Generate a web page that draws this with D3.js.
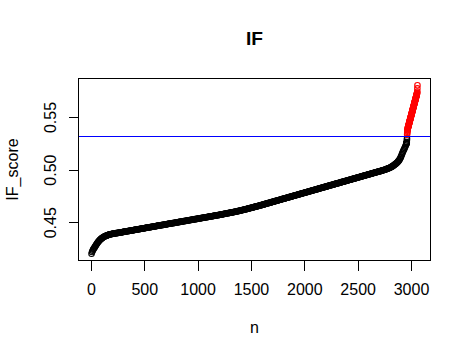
<!DOCTYPE html>
<html>
<head>
<meta charset="utf-8">
<script src="https://cdn.jsdelivr.net/npm/d3@7/dist/d3.min.js"></script>
<style>
html,body{margin:0;padding:0;background:#fff;}
svg{display:block;}
text{font-family:"Liberation Sans",Arial,sans-serif;fill:#000;}
</style>
</head>
<body>
<script>
const scores = [
0.4205,0.4222,0.4234,0.4244,0.4252,0.4260,0.4268,0.4276,0.4284,0.4292,0.4300,0.4307,0.4314,0.4321,0.4327,0.4333,0.4338,0.4343,0.4347,0.4351,
0.4355,0.4359,0.4362,0.4365,0.4368,0.4371,0.4373,0.4375,0.4377,0.4379,0.4381,0.4383,0.4385,0.4387,0.4389,0.4390,0.4391,0.4392,0.4393,0.4394,
0.4395,0.4396,0.4397,0.4398,0.4399,0.4400,0.4401,0.4401,0.4402,0.4403,0.4404,0.4405,0.4406,0.4407,0.4407,0.4408,0.4409,0.4410,0.4411,0.4412,
0.4413,0.4414,0.4415,0.4416,0.4417,0.4418,0.4418,0.4419,0.4420,0.4421,0.4422,0.4423,0.4424,0.4425,0.4426,0.4426,0.4427,0.4428,0.4429,0.4430,
0.4431,0.4432,0.4433,0.4434,0.4435,0.4436,0.4436,0.4437,0.4438,0.4439,0.4440,0.4441,0.4442,0.4443,0.4444,0.4444,0.4445,0.4446,0.4447,0.4448,
0.4449,0.4450,0.4451,0.4452,0.4453,0.4454,0.4454,0.4455,0.4456,0.4457,0.4458,0.4459,0.4460,0.4461,0.4462,0.4462,0.4463,0.4464,0.4465,0.4466,
0.4467,0.4468,0.4469,0.4470,0.4471,0.4472,0.4472,0.4473,0.4474,0.4475,0.4476,0.4477,0.4478,0.4479,0.4480,0.4480,0.4481,0.4482,0.4483,0.4484,
0.4485,0.4486,0.4487,0.4488,0.4489,0.4490,0.4490,0.4491,0.4492,0.4493,0.4494,0.4495,0.4496,0.4497,0.4498,0.4498,0.4499,0.4500,0.4501,0.4502,
0.4503,0.4504,0.4505,0.4506,0.4507,0.4508,0.4508,0.4509,0.4510,0.4511,0.4512,0.4513,0.4514,0.4515,0.4516,0.4516,0.4517,0.4518,0.4519,0.4520,
0.4521,0.4522,0.4523,0.4524,0.4525,0.4526,0.4526,0.4527,0.4528,0.4529,0.4530,0.4531,0.4532,0.4533,0.4534,0.4534,0.4535,0.4536,0.4537,0.4538,
0.4539,0.4540,0.4541,0.4542,0.4543,0.4544,0.4544,0.4545,0.4546,0.4547,0.4548,0.4549,0.4550,0.4551,0.4552,0.4552,0.4553,0.4554,0.4555,0.4556,
0.4557,0.4558,0.4559,0.4560,0.4561,0.4562,0.4562,0.4563,0.4564,0.4565,0.4566,0.4567,0.4568,0.4569,0.4570,0.4570,0.4571,0.4572,0.4573,0.4574,
0.4575,0.4576,0.4577,0.4578,0.4579,0.4580,0.4581,0.4582,0.4583,0.4584,0.4585,0.4586,0.4587,0.4588,0.4589,0.4590,0.4591,0.4592,0.4593,0.4594,
0.4595,0.4596,0.4597,0.4598,0.4599,0.4600,0.4601,0.4602,0.4603,0.4604,0.4605,0.4606,0.4607,0.4609,0.4610,0.4611,0.4612,0.4613,0.4614,0.4616,
0.4617,0.4618,0.4619,0.4621,0.4622,0.4623,0.4624,0.4626,0.4627,0.4628,0.4629,0.4631,0.4632,0.4633,0.4635,0.4636,0.4637,0.4639,0.4640,0.4641,
0.4642,0.4644,0.4645,0.4646,0.4648,0.4649,0.4651,0.4652,0.4653,0.4655,0.4656,0.4657,0.4659,0.4660,0.4662,0.4663,0.4664,0.4666,0.4667,0.4669,
0.4670,0.4671,0.4673,0.4674,0.4676,0.4677,0.4679,0.4680,0.4682,0.4683,0.4685,0.4686,0.4687,0.4689,0.4690,0.4692,0.4693,0.4695,0.4696,0.4698,
0.4699,0.4700,0.4702,0.4703,0.4705,0.4706,0.4708,0.4709,0.4711,0.4712,0.4714,0.4715,0.4716,0.4718,0.4719,0.4721,0.4722,0.4724,0.4725,0.4727,
0.4728,0.4729,0.4731,0.4732,0.4734,0.4735,0.4737,0.4738,0.4740,0.4741,0.4743,0.4744,0.4745,0.4747,0.4748,0.4750,0.4751,0.4753,0.4754,0.4756,
0.4757,0.4758,0.4760,0.4761,0.4763,0.4764,0.4766,0.4767,0.4769,0.4770,0.4772,0.4773,0.4774,0.4776,0.4777,0.4779,0.4780,0.4782,0.4783,0.4785,
0.4786,0.4787,0.4789,0.4790,0.4792,0.4793,0.4795,0.4796,0.4798,0.4799,0.4801,0.4802,0.4803,0.4805,0.4806,0.4808,0.4809,0.4811,0.4812,0.4814,
0.4815,0.4816,0.4818,0.4819,0.4821,0.4822,0.4824,0.4825,0.4827,0.4828,0.4830,0.4831,0.4832,0.4834,0.4835,0.4837,0.4838,0.4840,0.4841,0.4843,
0.4844,0.4845,0.4847,0.4848,0.4850,0.4851,0.4853,0.4854,0.4856,0.4857,0.4859,0.4860,0.4861,0.4863,0.4864,0.4866,0.4867,0.4869,0.4870,0.4872,
0.4873,0.4874,0.4876,0.4877,0.4879,0.4880,0.4882,0.4883,0.4885,0.4886,0.4888,0.4889,0.4890,0.4892,0.4893,0.4895,0.4896,0.4898,0.4899,0.4901,
0.4902,0.4903,0.4905,0.4906,0.4908,0.4909,0.4911,0.4912,0.4914,0.4915,0.4917,0.4918,0.4919,0.4921,0.4922,0.4924,0.4925,0.4927,0.4928,0.4930,
0.4931,0.4932,0.4934,0.4935,0.4937,0.4938,0.4940,0.4941,0.4943,0.4944,0.4946,0.4947,0.4948,0.4950,0.4951,0.4953,0.4954,0.4956,0.4957,0.4959,
0.4960,0.4961,0.4963,0.4964,0.4966,0.4967,0.4969,0.4970,0.4972,0.4973,0.4975,0.4976,0.4977,0.4979,0.4980,0.4982,0.4983,0.4985,0.4986,0.4988,
0.4989,0.4990,0.4992,0.4993,0.4995,0.4996,0.4998,0.4999,0.5001,0.5003,0.5004,0.5006,0.5008,0.5010,0.5012,0.5014,0.5016,0.5018,0.5020,0.5022,
0.5024,0.5027,0.5030,0.5033,0.5036,0.5040,0.5044,0.5047,0.5051,0.5055,0.5059,0.5063,0.5068,0.5073,0.5078,0.5084,0.5090,0.5097,0.5105,0.5115,
0.5126,0.5139,0.5152,0.5165,0.5177,0.5188,0.5199,0.5210,0.5222,0.5234,0.5247
];
const tailScores = [
0.5250,0.5254,0.5258,0.5263,0.5268,0.5284,0.5300,0.5338,0.5352,0.5364,
0.5374,0.5382,0.5389,0.5395,0.5399,0.5403,0.5407,0.5411,0.5415,0.5418,
0.5422,0.5426,0.5430,0.5434,0.5437,0.5441,0.5445,0.5449,0.5453,0.5457,
0.5461,0.5464,0.5468,0.5472,0.5476,0.5480,0.5484,0.5487,0.5491,0.5495,
0.5499,0.5503,0.5507,0.5510,0.5514,0.5518,0.5522,0.5526,0.5530,0.5533,
0.5537,0.5541,0.5545,0.5549,0.5553,0.5556,0.5560,0.5564,0.5568,0.5572,
0.5576,0.5580,0.5583,0.5587,0.5591,0.5595,0.5599,0.5603,0.5606,0.5610,
0.5614,0.5618,0.5622,0.5626,0.5629,0.5633,0.5637,0.5641,0.5645,0.5649,
0.5652,0.5656,0.5660,0.5664,0.5668,0.5672,0.5675,0.5679,0.5683,0.5687,
0.5691,0.5695,0.5698,0.5702,0.5706,0.5710,0.5714,0.5718,0.5722,0.5726,
0.5731,0.5737,0.5748,0.5777,0.5807
];
const rankStep = 5;            // spacing of the stored bulk values
const tailStart = 2952;        // first rank of the per-observation tail
const threshold = [0.532];     // horizontal cut-off line
const xTicks = [0, 500, 1000, 1500, 2000, 2500, 3000];
const yTicks = [0.45, 0.50, 0.55];
const yTickLabels = ["0.45", "0.50", "0.55"];
const titleText = "IF";
const xLabel = "n";
const yLabel = "IF_score";

const W = 471, H = 358;
const L = 78.5, R = 430.5, T = 78.5, B = 260.5;

const pts = scores.map((v, i) => ({n: 1 + i * rankStep, v}))
  .concat(tailScores.map((v, i) => ({n: tailStart + i, v})));

const svg = d3.select("body").append("svg").attr("width", W).attr("height", H);
svg.append("rect").attr("width", W).attr("height", H).attr("fill", "#fff");

// R-style 4% extended ranges
const xExt = d3.extent(pts, d => d.n), yExt = d3.extent(pts, d => d.v);
const xp = (xExt[1] - xExt[0]) * 0.04, yp = (yExt[1] - yExt[0]) * 0.04;
const x = d3.scaleLinear().domain([xExt[0] - xp, xExt[1] + xp]).range([L, R]);
const y = d3.scaleLinear().domain([yExt[0] - yp, yExt[1] + yp]).range([B, T]);
const snap = v => Math.floor(v) + 0.5;

// points
svg.append("g").selectAll("circle").data(pts).join("circle")
  .attr("cx", d => x(d.n)).attr("cy", d => y(d.v)).attr("r", 2.75)
  .attr("fill", "none").attr("stroke-width", 1.1)
  .attr("stroke", d => d.v > threshold[0] ? "#FF0000" : "#000000");

// threshold line
svg.append("g").selectAll("line").data(threshold).join("line")
  .attr("x1", L).attr("x2", R).attr("y1", d => snap(y(d))).attr("y2", d => snap(y(d)))
  .attr("stroke", "#0000FF").attr("stroke-width", 1).attr("shape-rendering", "crispEdges");

// box
svg.append("rect").attr("x", L).attr("y", T).attr("width", R - L).attr("height", B - T)
  .attr("fill", "none").attr("stroke", "#000").attr("stroke-width", 1).attr("shape-rendering", "crispEdges");

// x axis
const gx = svg.append("g").attr("shape-rendering", "crispEdges");
gx.append("line").attr("x1", snap(x(xTicks[0]))).attr("x2", snap(x(xTicks[xTicks.length - 1])))
  .attr("y1", B).attr("y2", B).attr("stroke", "#000");
gx.selectAll("line.t").data(xTicks).join("line").attr("class", "t")
  .attr("x1", d => snap(x(d))).attr("x2", d => snap(x(d))).attr("y1", B).attr("y2", B + 10)
  .attr("stroke", "#000");
svg.append("g").selectAll("text").data(xTicks).join("text")
  .attr("x", d => x(d)).attr("y", 295).attr("text-anchor", "middle")
  .attr("font-size", "16px").text(d => String(d));

// y axis
const gy = svg.append("g").attr("shape-rendering", "crispEdges");
gy.append("line").attr("y1", snap(y(yTicks[0]))).attr("y2", snap(y(yTicks[yTicks.length - 1])))
  .attr("x1", L).attr("x2", L).attr("stroke", "#000");
gy.selectAll("line.t").data(yTicks).join("line").attr("class", "t")
  .attr("y1", d => snap(y(d))).attr("y2", d => snap(y(d))).attr("x1", L).attr("x2", L - 10)
  .attr("stroke", "#000");
svg.append("g").selectAll("text").data(yTicks).join("text")
  .attr("transform", d => `translate(55.5,${y(d)}) rotate(-90)`)
  .attr("text-anchor", "middle").attr("font-size", "16px")
  .text((d, i) => yTickLabels[i]);

// labels
svg.append("text").attr("x", (L + R) / 2).attr("y", 45).attr("text-anchor", "middle")
  .attr("font-size", "19.2px").attr("font-weight", "bold").text(titleText);
svg.append("text").attr("x", (L + R) / 2).attr("y", 333).attr("text-anchor", "middle")
  .attr("font-size", "16px").text(xLabel);
svg.append("text").attr("transform", `translate(18,${(T + B) / 2}) rotate(-90)`)
  .attr("text-anchor", "middle").attr("font-size", "16px").text(yLabel);
</script>
</body>
</html>
